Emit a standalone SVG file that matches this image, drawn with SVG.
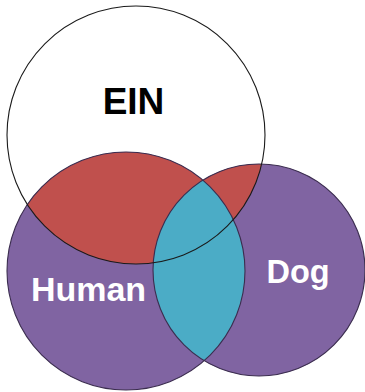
<svg xmlns="http://www.w3.org/2000/svg" width="365" height="392" viewBox="0 0 365 392">
  <style>
    .ring { fill: none; stroke-width: 1.1; }
    .set-ring { stroke: #3b2d4f; }
    .ein-ring { stroke: #1a1a1a; }
    .purple { fill: #8064a2; }
    .red { fill: #c0504d; }
    .aqua { fill: #4bacc6; }
    .label { font-family: "Liberation Sans", Arial, sans-serif; font-weight: bold; text-anchor: middle; }
  </style>
  <defs>
    <circle id="c-ein" cx="136" cy="135" r="129"/>
    <circle id="c-human" cx="126" cy="271" r="119"/>
    <circle id="c-dog" cx="259" cy="270" r="106"/>
    <clipPath id="clip-ein"><use href="#c-ein"/></clipPath>
    <clipPath id="clip-human"><use href="#c-human"/></clipPath>
  </defs>
  <rect width="365" height="392" fill="#ffffff"/>

  <g id="ein">
    <use href="#c-ein" fill="#ffffff"/>
  </g>
  <g id="human">
    <use href="#c-human" class="purple"/>
  </g>
  <g id="dog">
    <use href="#c-dog" class="purple"/>
  </g>

  <!-- overlaps -->
  <g id="overlaps">
    <use href="#c-human" class="red" clip-path="url(#clip-ein)"/>
    <use href="#c-dog" class="red" clip-path="url(#clip-ein)"/>
    <use href="#c-dog" class="aqua" clip-path="url(#clip-human)"/>
  </g>

  <!-- outlines -->
  <g id="outlines">
    <use href="#c-human" class="ring set-ring"/>
    <use href="#c-dog" class="ring set-ring"/>
    <use href="#c-ein" class="ring ein-ring"/>
  </g>

  <g id="labels">
    <text class="label" x="133.5" y="114" font-size="37" fill="#000000">EIN</text>
    <text class="label" x="88.5" y="301" font-size="34" fill="#ffffff">Human</text>
    <text class="label" x="298" y="283" font-size="32.5" fill="#ffffff">Dog</text>
  </g>
</svg>
